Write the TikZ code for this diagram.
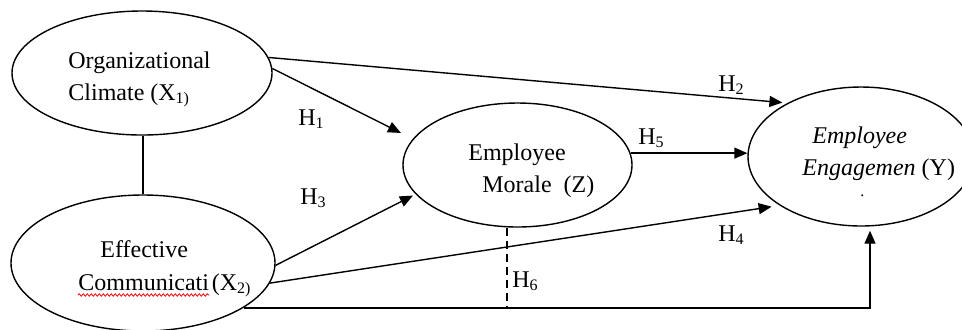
\documentclass[tikz,border=0pt]{standalone}
\usepackage{fontspec}
\setmainfont{Liberation Serif}
\usetikzlibrary{arrows.meta,shapes.geometric,decorations.pathmorphing}

\begin{document}
\begin{tikzpicture}[
		x=0.5pt, y=-0.5pt,
		var/.style={draw, ellipse, line width=0.7pt, inner sep=0pt},
		txt/.style={anchor=base west, inner sep=0pt, font=\fontsize{12}{14}\selectfont},
		link/.style={line width=0.7pt, -{Triangle[length=6.5pt, width=5.5pt]}},
		spell/.style={red, line width=0.4pt, decorate, decoration={snake, segment length=2pt, amplitude=0.6pt}},
	]
		\useasboundingbox (0,0) rectangle (962,329);

		% latent variables
		\node[var, minimum width=130pt, minimum height=62pt] (x1) at (142,73) {};
		\node[var, minimum width=132pt, minimum height=68pt] (x2) at (143,263) {};
		\node[var, minimum width=114.5pt, minimum height=62pt] (z) at (517.5,165) {};
		\node[var, minimum width=113pt, minimum height=69.5pt] (y) at (861,156.5) {};

		% texts inside
		\node[txt] (x1a) at (68,68) {Organizational};
		\node[txt] (x1b) at (68,100) {Climate (X\textsubscript{1)}};
		\node[txt] (x2a) at (100,257) {Effective};
		\node[txt] (x2b) at (78,290) {Communicati};
		\node[txt] (x2c) at ([xshift=1pt]x2b.base east) {(X\textsubscript{2)}};
		\draw[spell] ([yshift=-2.5pt]x2b.base west) -- ([yshift=-2.5pt]x2b.base east);
		\node[txt] (za) at (468,160) {Employee};
		\node[txt] (zb) at (482,192) {Morale\ \ (Z)};
		\node[txt] (ya) at (812,143) {\itshape Employee};
		\node[txt] (yb) at (802,175) {{\itshape Engagemen} (Y)};
		\node[txt, font=\fontsize{8}{9}\selectfont] (ydot) at (860,196) {.};

		% paths
		\draw[line width=0.7pt] (x2.north |- x1.south) -- (x2.north);
		\draw[link, shorten >=6.6pt] (x1.2) -- (z.166);
		\draw[link, shorten >=2.5pt] (x1.7) -- (y.144);
		\draw[link, shorten >=1.5pt] (x2.-1) -- (z.196);
		\draw[link, shorten >=4pt] (x2.-9) -- (y.211.5);
		\draw[link] (z.6) -- (z.6 -| y.west);
		\draw[link, shorten >=2pt] (x2.-24) -| ([xshift=4.5pt]y.south);
		\coordinate (hfoot) at ([xshift=-5.25pt]z.south);
		\draw[line width=0.7pt, dash pattern=on 4pt off 2.5pt] (hfoot) -- (hfoot |- x2.-24);

		% hypotheses
		\node[txt] (h1) at (298,125) {H\textsubscript{1}};
		\node[txt] (h2) at (718,91) {H\textsubscript{2}};
		\node[txt] (h3) at (300,204) {H\textsubscript{3}};
		\node[txt] (h4) at (718,241) {H\textsubscript{4}};
		\node[txt] (h5) at (638,144) {H\textsubscript{5}};
		\node[txt] (h6) at (512,287) {H\textsubscript{6}};
	\end{tikzpicture}
\end{document}
